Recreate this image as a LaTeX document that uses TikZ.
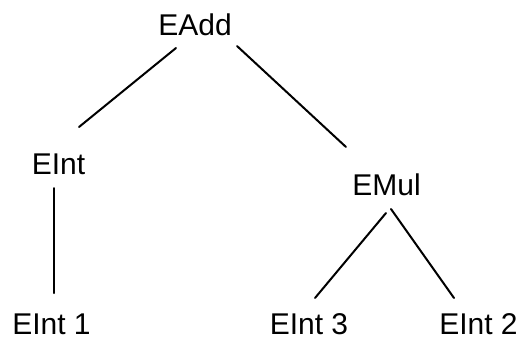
\documentclass[tikz,border=0pt]{standalone}
\usepackage{fontspec}
\setmainfont{Liberation Sans}
\begin{document}
\begin{tikzpicture}[x=1pt,y=1pt,
  lbl/.style={anchor=base,inner sep=0pt,font=\fontsize{30}{36}\selectfont},
  edge/.style={line width=2pt,line cap=round}]
\useasboundingbox (0,0) rectangle (521,-341);
\node[lbl] (add) at (195,-35) {EAdd};
\node[lbl] (int) at (58.5,-174) {EInt};
\node[lbl] (mul) at (386.5,-195) {EMul};
\node[lbl] (i1) at (51.5,-334) {EInt 1};
\node[lbl] (i3) at (309,-334) {EInt 3};
\node[lbl] (i2) at (478.5,-334) {EInt 2};
\draw[edge] ([shift={(-19,-13)}]add.base) -- ([shift={(20.5,47)}]int.base);
\draw[edge] ([shift={(42,-11)}]add.base) -- ([shift={(-40.5,48)}]mul.base);
\draw[edge] ([shift={(-4.5,-14)}]int.base) -- ([shift={(2.5,41)}]i1.base);
\draw[edge] ([shift={(-0.5,-18)}]mul.base) -- ([shift={(6,36)}]i3.base);
\draw[edge] ([shift={(4.5,-14)}]mul.base) -- ([shift={(-24.5,36)}]i2.base);
\end{tikzpicture}
\end{document}
